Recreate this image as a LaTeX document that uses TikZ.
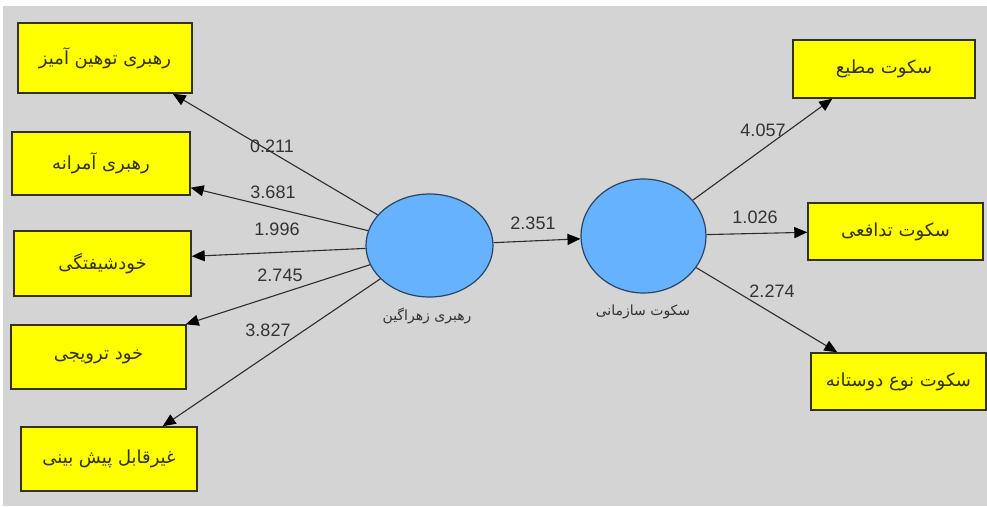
\documentclass[tikz,border=0pt]{standalone}
\usepackage{fontspec}
\setmainfont{Liberation Sans}
\newfontfamily\arabicfont[Script=Arabic]{DejaVu Sans}
\TeXXeTstate=1
\usetikzlibrary{shapes.geometric,arrows.meta,calc}
\definecolor{bggray}{RGB}{212,212,212}
\definecolor{boxyellow}{RGB}{255,255,0}
\definecolor{ellblue}{RGB}{102,178,255}
\definecolor{ellborder}{RGB}{40,70,100}
\definecolor{boxborder}{RGB}{50,50,30}
\definecolor{boxtext}{RGB}{50,50,10}
\definecolor{linegray}{RGB}{45,45,45}
\tikzset{
  indbox/.style={draw=boxborder, line width=1.4pt, fill=boxyellow, inner sep=0pt,
    text=boxtext, font=\arabicfont\fontsize{18}{20}\selectfont},
  latent/.style={ellipse, draw=ellborder, line width=1.2pt, fill=ellblue, inner sep=0pt},
  latlabel/.style={text=black!80, font=\arabicfont\fontsize{14}{16}\selectfont},
  pathval/.style={text=black!80, font=\fontsize{18}{20}\selectfont, inner sep=0pt},
  conn/.style={draw=linegray, line width=1.1pt, -{Triangle[length=13pt,width=11pt,color=black]}}
}
\begin{document}
\begin{tikzpicture}[x=1pt,y=-1pt]
\useasboundingbox (0,0) rectangle (987,506);
\fill[white] (0,0) rectangle (987,506);
\fill[bggray] (3,6) rectangle (987,506);

% left indicator boxes
\node[indbox, minimum width=174pt, minimum height=70pt] (b1) at (105,58) {\beginR رهبری توهین آمیز\endR};
\node[indbox, minimum width=178pt, minimum height=63pt] (b2) at (101,163.5) {\beginR رهبری آمرانه\endR};
\node[indbox, minimum width=177pt, minimum height=65pt] (b3) at (102.5,263.5) {\beginR خودشیفتگی\endR};
\node[indbox, minimum width=175pt, minimum height=64pt] (b4) at (98.5,357) {\beginR خود ترویجی\endR};
\node[indbox, minimum width=176pt, minimum height=64pt] (b5) at (109,459) {\beginR غیرقابل پیش بینی\endR};

% right indicator boxes
\node[indbox, minimum width=182pt, minimum height=58pt] (r1) at (884,69) {\beginR سکوت مطیع\endR};
\node[indbox, minimum width=175pt, minimum height=57pt] (r2) at (895.5,231.5) {\beginR سکوت تدافعی\endR};
\node[indbox, minimum width=175pt, minimum height=57pt] (r3) at (898.5,381.5) {\beginR سکوت نوع دوستانه\endR};

% latent variables
\node[latent, minimum width=127pt, minimum height=103pt] (e1) at (429.5,245.5) {};
\node[latent, minimum width=125pt, minimum height=114pt] (e2) at (643.5,236) {};
\node[latlabel] (l1) at (427,316) {\beginR رهبری زهراگین\endR};
\node[latlabel] (l2) at (643,312) {\beginR سکوت سازمانی\endR};

% connectors
\draw[conn] (e1) -- ($(b1.south east)+(-20,0)$);
\draw[conn] (e1) -- ($(b2.south east)+(0,-8)$);
\draw[conn] (e1) -- ($(b3.north east)+(0,26)$);
\draw[conn] (e1) -- ($(b4.north east)+(-1,0)$);
\draw[conn] (e1) -- ($(b5.north east)+(-35,0)$);
\draw[conn] (e1) -- (e2);
\draw[conn] (e2) -- ($(r1.south west)+(40,0)$);
\draw[conn] (e2) -- ($(r2.north west)+(0,30)$);
\draw[conn] (e2) -- ($(r3.north west)+(27,0)$);

% path values
\node[pathval] (v1) at (272,146) {0.211};
\node[pathval] (v2) at (273,192) {3.681};
\node[pathval] (v3) at (277,229) {1.996};
\node[pathval] (v4) at (280,275) {2.745};
\node[pathval] (v5) at (268,330) {3.827};
\node[pathval] (v6) at (533,223) {2.351};
\node[pathval] (v7) at (763,130) {4.057};
\node[pathval] (v8) at (755,217) {1.026};
\node[pathval] (v9) at (772,291) {2.274};
\end{tikzpicture}
\end{document}
